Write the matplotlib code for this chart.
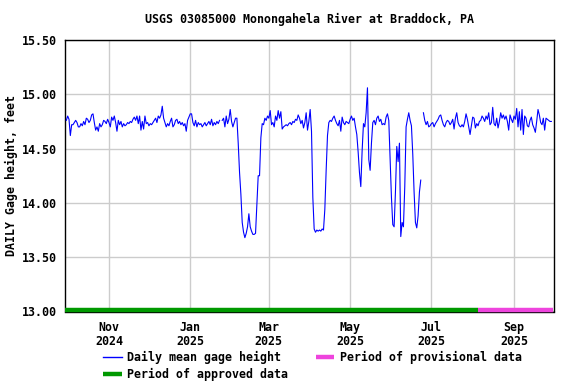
import numpy as np
import pandas as pd
import matplotlib
matplotlib.use("Agg")
import matplotlib.pyplot as plt
import matplotlib.dates as mdates
from matplotlib.lines import Line2D

nan = np.nan

title = "USGS 03085000 Monongahela River at Braddock, PA"
ylabel = "DAILY Gage height, feet"
series_label = "Daily mean gage height"
approved_label = "Period of approved data"
provisional_label = "Period of provisional data"

start_date = "2024-09-30"

sep2024 = [14.76]
oct2024 = [14.80, 14.77, 14.62, 14.72, 14.72, 14.74, 14.76, 14.74, 14.70, 14.70,
           14.73, 14.71, 14.75, 14.72, 14.78, 14.77, 14.74, 14.76, 14.81, 14.82,
           14.74, 14.67, 14.70, 14.66, 14.73, 14.70, 14.72, 14.76, 14.75, 14.73,
           14.77]
nov2024 = [14.74, 14.70, 14.79, 14.76, 14.80, 14.74, 14.66, 14.76, 14.72, 14.75,
           14.70, 14.73, 14.71, 14.72, 14.74, 14.73, 14.75, 14.74, 14.77, 14.79,
           14.76, 14.80, 14.73, 14.80, 14.67, 14.75, 14.68, 14.80, 14.73, 14.74]
dec2024 = [14.71, 14.73, 14.72, 14.74, 14.76, 14.78, 14.74, 14.80, 14.78, 14.81,
           14.89, 14.78, 14.74, 14.70, 14.73, 14.71, 14.75, 14.78, 14.70, 14.72,
           14.76, 14.77, 14.73, 14.75, 14.72, 14.74, 14.71, 14.73, 14.66, 14.76,
           14.79]
jan2025 = [14.82, 14.82, 14.74, 14.71, 14.76, 14.70, 14.74, 14.72, 14.73, 14.70,
           14.72, 14.74, 14.71, 14.73, 14.75, 14.72, 14.77, 14.71, 14.74, 14.72,
           14.75, 14.73, 14.76, nan, 14.76, 14.78, 14.70, 14.80, 14.73, 14.77,
           14.86]
feb2025 = [14.75, 14.70, 14.74, 14.78, 14.78, 14.55, 14.28, 14.08, 13.82, 13.73,
           13.68, 13.72, 13.78, 13.90, 13.78, 13.74, 13.71, 13.71, 13.72, 13.98,
           14.25, 14.25, 14.60, 14.73, 14.72, 14.78, 14.76, 14.80]
mar2025 = [14.78, 14.85, 14.72, 14.74, 14.70, 14.80, 14.76, 14.85, 14.78, 14.84,
           14.68, 14.70, 14.71, 14.72, 14.71, 14.73, 14.74, 14.72, 14.75, 14.74,
           14.77, 14.76, 14.81, 14.78, 14.73, 14.76, 14.69, 14.74, 14.83, 14.67,
           14.75]
apr2025 = [14.86, 14.66, 14.05, 13.76, 13.73, 13.75, 13.74, 13.75, 13.74, 13.76,
           13.75, 13.94, 14.30, 14.62, 14.74, 14.76, 14.75, 14.78, 14.80, 14.76,
           14.73, 14.71, 14.76, 14.66, 14.79, 14.74, 14.72, 14.75, 14.74, 14.73]
may2025 = [14.77, 14.80, 14.76, 14.78, 14.70, 14.63, 14.47, 14.28, 14.15, 14.48,
           14.73, 14.70, 14.83, 15.06, 14.40, 14.30, 14.55, 14.74, 14.76, 14.72,
           14.78, 14.80, 14.75, 14.77, 14.72, 14.73, 14.72, 14.79, 14.82, 14.76,
           14.40]
jun2025 = [14.05, 13.80, 13.78, 14.10, 14.52, 14.38, 14.55, 13.69, 13.82, 13.78,
           14.15, 14.70, 14.77, 14.83, 14.76, 14.71, 14.45, 14.10, 13.82, 13.77,
           13.88, 14.10, 14.21, nan, 14.83, 14.76, 14.72, 14.75, 14.70, 14.71]
jul2025 = [14.73, 14.74, 14.70, 14.73, 14.75, 14.77, 14.80, 14.81, 14.76, 14.72,
           14.70, 14.74, 14.76, 14.75, 14.72, 14.74, 14.77, 14.68, 14.78, 14.83,
           14.74, 14.71, 14.70, 14.72, 14.70, 14.75, 14.82, 14.77, 14.70, 14.63,
           14.71]
aug2025 = [14.79, 14.78, 14.69, 14.73, 14.71, 14.75, 14.76, 14.80, 14.78, 14.75,
           14.80, 14.77, 14.83, 14.72, 14.74, 14.88, 14.73, 14.71, 14.78, 14.69,
           14.75, 14.83, 14.78, 14.81, 14.77, 14.80, 14.75, 14.67, 14.81, 14.77,
           14.74]
sep2025 = [14.80, 14.77, 14.87, 14.70, 14.84, 14.67, 14.86, 14.63, 14.80, 14.78,
           14.71, 14.70, 14.76, 14.79, 14.72, 14.69, 14.65, 14.75, 14.86, 14.81,
           14.74, 14.72, 14.78, 14.67, 14.78, 14.77, 14.76, 14.75, 14.75]

approved_period = ["2024-09-29", "2025-08-05"]
provisional_period = ["2025-08-05", "2025-09-30"]

xlim_dates = ["2024-09-29", "2025-10-01"]
y_ticks = [13.0, 13.5, 14.0, 14.5, 15.0, 15.5]
x_tick_dates = ["2024-11-01", "2025-01-01", "2025-03-01", "2025-05-01", "2025-07-01", "2025-09-01"]
x_tick_labels = ["Nov\n2024", "Jan\n2025", "Mar\n2025", "May\n2025", "Jul\n2025", "Sep\n2025"]

values = (sep2024 + oct2024 + nov2024 + dec2024 + jan2025 + feb2025 + mar2025 +
          apr2025 + may2025 + jun2025 + jul2025 + aug2025 + sep2025)
dates = pd.date_range(start_date, periods=len(values), freq="D")

FONT = "DejaVu Sans Mono"
FS = 8.35
plt.rcParams["font.family"] = [FONT]
plt.rcParams["font.weight"] = "bold"

fig = plt.figure(figsize=(5.76, 3.84), dpi=100)
ax = fig.add_axes([65 / 576, 1 - 311.5 / 384, 489 / 576, 271.5 / 384])

ax.plot(dates, values, color="#0000ff", lw=0.8, zorder=3)

green = "#009900"
pink = "#ee44dd"
bar_y = 13.0 + 0.014
ax.plot(pd.to_datetime(approved_period), [bar_y, bar_y], color=green, lw=3.2,
        solid_capstyle="butt", clip_on=False, zorder=4)
ax.plot(pd.to_datetime(provisional_period), [bar_y, bar_y], color=pink, lw=3.2,
        solid_capstyle="butt", clip_on=False, zorder=4)

ax.set_xlim(pd.to_datetime(xlim_dates))
ax.set_ylim(y_ticks[0], y_ticks[-1])
ax.set_yticks(y_ticks)
ax.set_yticklabels([f"{v:.2f}" for v in y_ticks])
ax.set_xticks(pd.to_datetime(x_tick_dates))
ax.set_xticklabels(x_tick_labels, linespacing=1.1)
ax.tick_params(axis="both", length=0, labelsize=FS)
ax.tick_params(axis="y", pad=6)
ax.tick_params(axis="x", pad=6.5)
for lbl in ax.get_xticklabels() + ax.get_yticklabels():
    lbl.set_fontweight("bold")

ax.grid(True, color="#cccccc", lw=1.0, zorder=0)
ax.set_axisbelow(True)
for s in ax.spines.values():
    s.set_color("black")
    s.set_linewidth(1.0)

ax.set_ylabel(ylabel, fontsize=FS, fontweight="bold", labelpad=3)
fig.text(0.5 * (65 + 554) / 576, 1 - 19 / 384, title, ha="center", va="center",
         fontsize=FS, fontweight="bold")

handles = [
    Line2D([], [], color="#0000ff", lw=1.0),
    Line2D([], [], color=green, lw=3.2, solid_capstyle="butt"),
    Line2D([], [], color=pink, lw=3.2, solid_capstyle="butt"),
]
labels = [series_label, approved_label, provisional_label]
leg = fig.legend(handles, labels, loc="upper left", ncol=2,
                 bbox_to_anchor=(103 / 576, 1 - 351 / 384), frameon=False,
                 prop={"family": FONT, "size": FS, "weight": "bold"},
                 handlelength=1.6, handletextpad=0.5, columnspacing=2.35,
                 labelspacing=0.3, borderpad=0, borderaxespad=0)

fig.savefig("out.png", dpi=100)
